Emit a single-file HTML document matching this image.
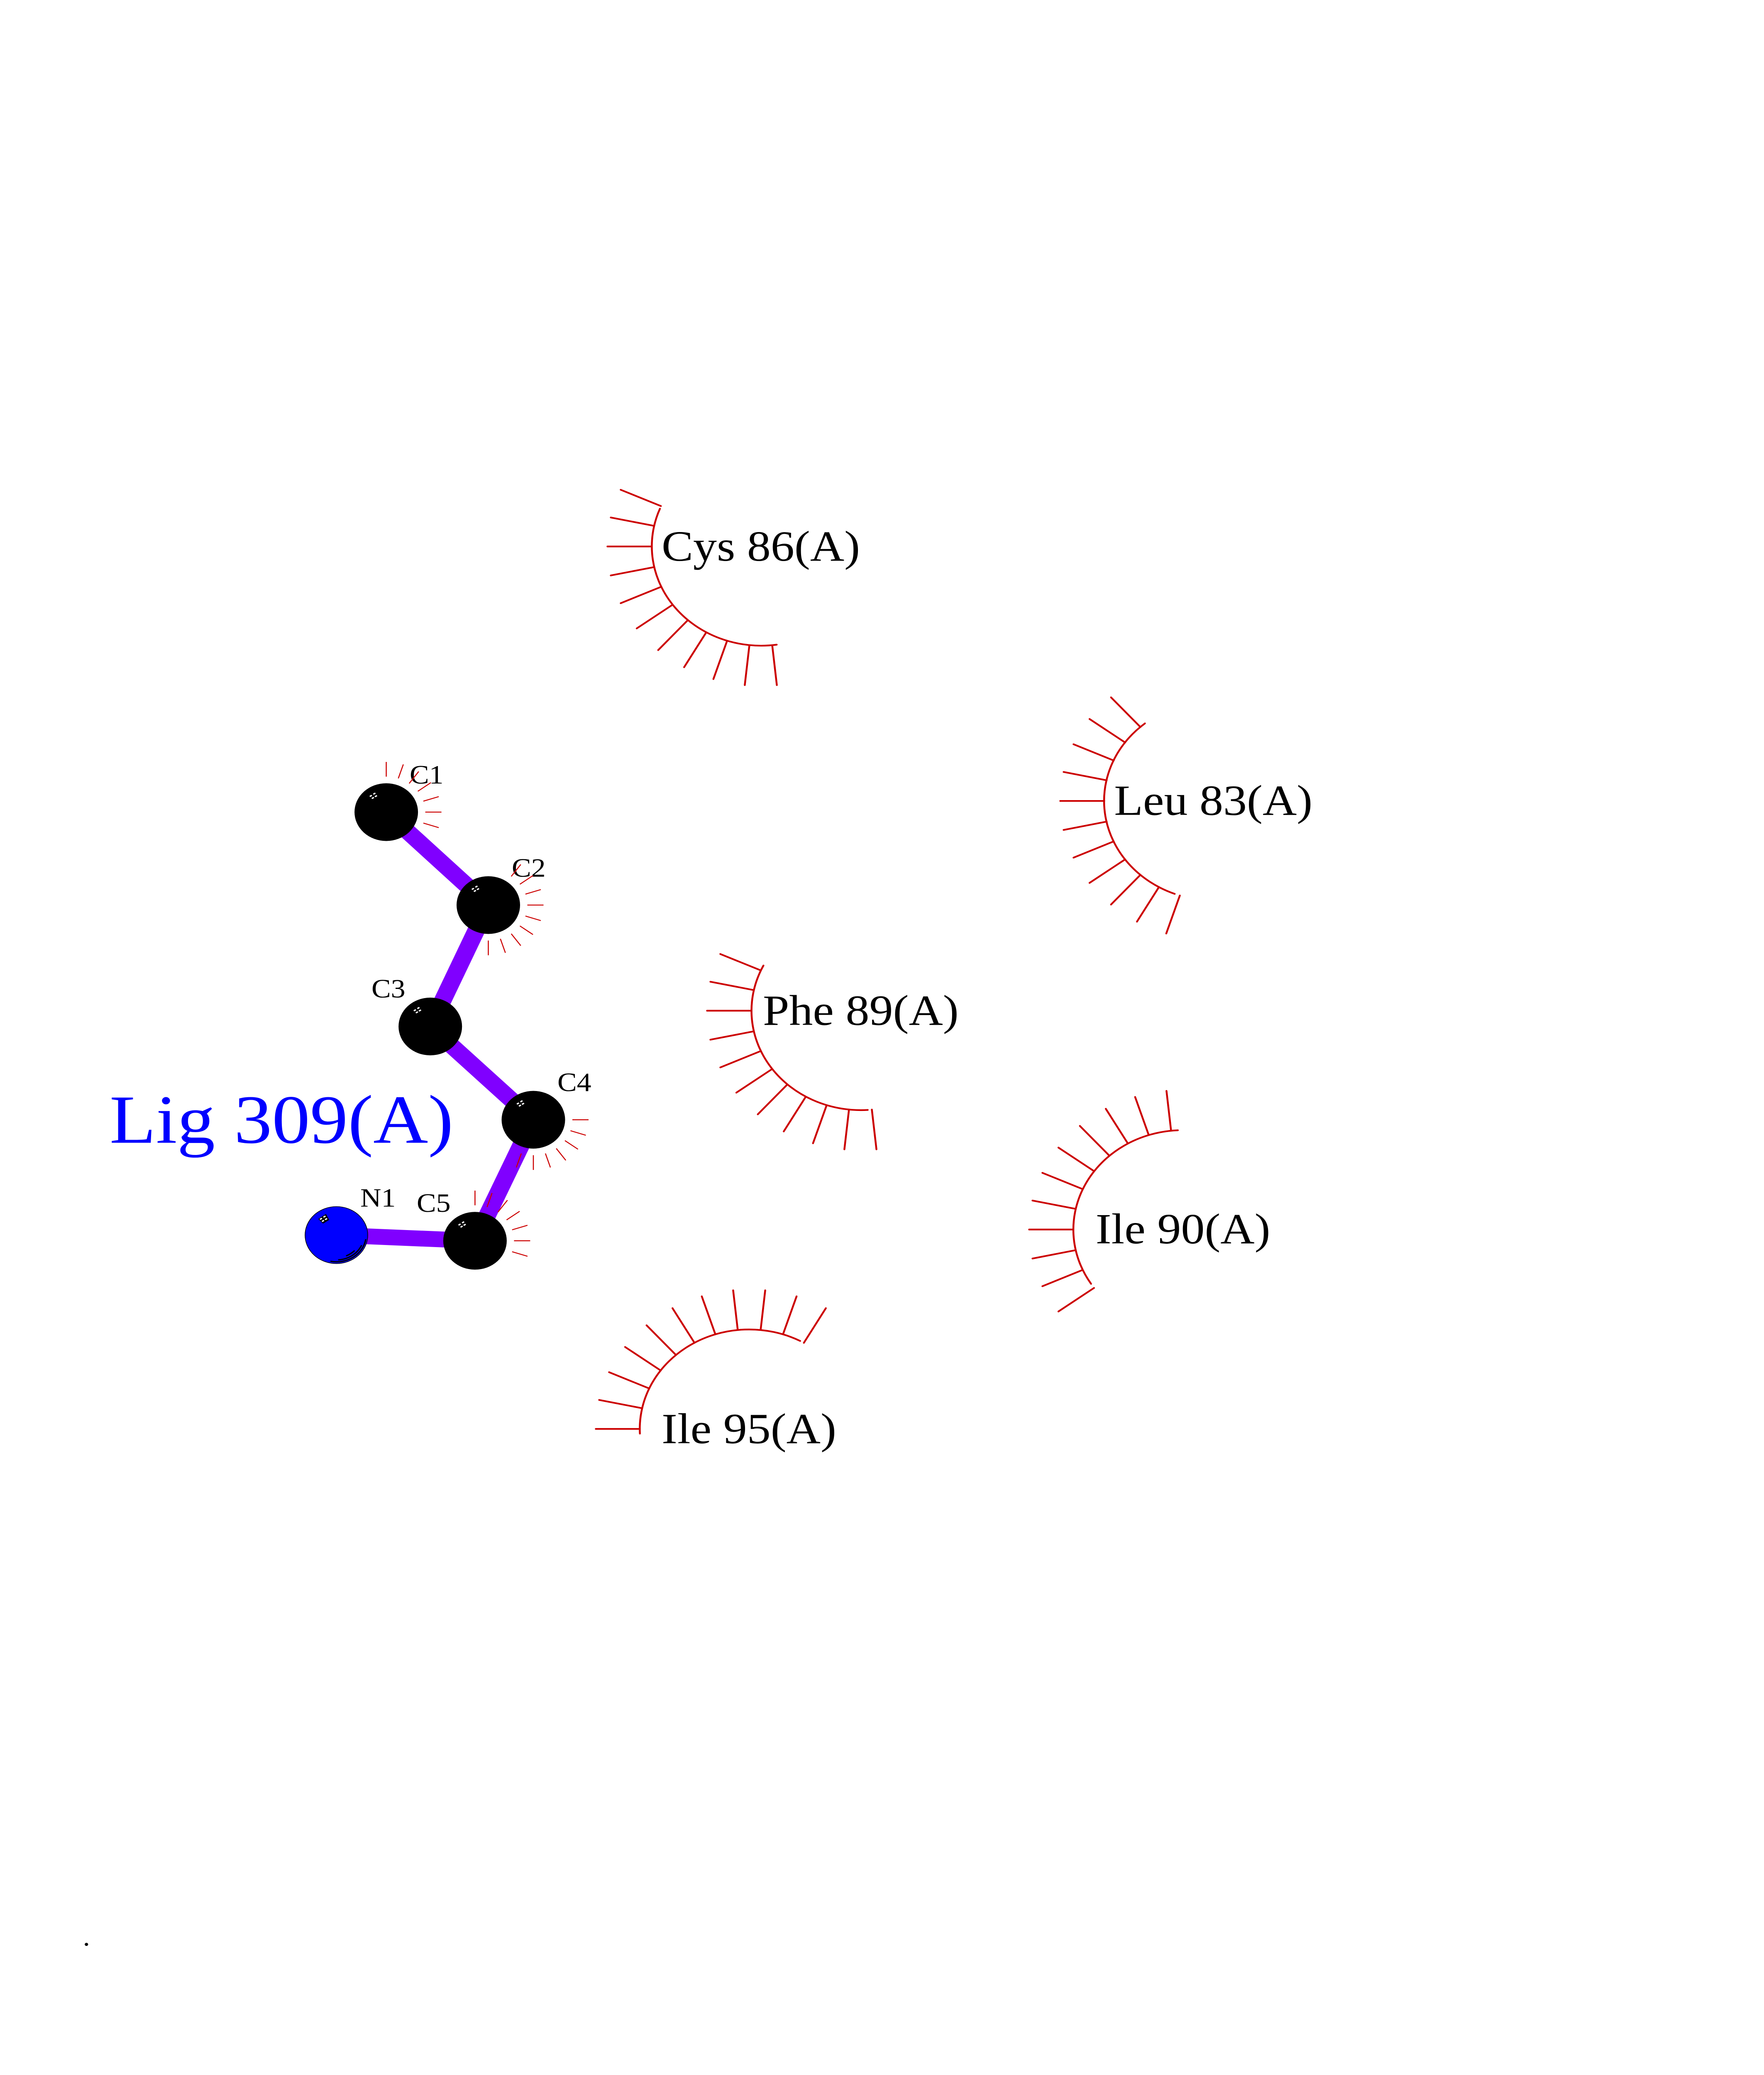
<!DOCTYPE html>
<html lang="en">
<head>
<meta charset="utf-8">
<title>Lig 309(A) interactions</title>
<style>
html,body{margin:0;padding:0;background:#fff;width:100%;height:100%;overflow:hidden;}
svg{display:block;width:100vw;height:100vh;}
text{font-family:"Liberation Serif",serif;fill:#000;}
.res{font-size:114px;}
.atom{font-size:70px;}
.arc{fill:none;stroke:#cc0000;stroke-width:4.5;stroke-linecap:round;}
.sp{stroke:#cc0000;stroke-width:2.5;}
</style>
</head>
<body>
<svg xmlns="http://www.w3.org/2000/svg" viewBox="0 0 4250 5500" preserveAspectRatio="none">
<rect width="4250" height="5500" fill="#fff"/>
<defs>
<g id="hl" stroke="#fff" stroke-width="3.5">
<line x1="-39.7" y1="-41.5" x2="-34.7" y2="-44.5"/>
<line x1="-31.2" y1="-47.4" x2="-26.2" y2="-50.4"/>
<line x1="-27.4" y1="-40.8" x2="-22.4" y2="-43.8"/>
<line x1="-34.8" y1="-36" x2="-29.8" y2="-39"/>
</g>
<line id="t" x1="-263.5" y1="0" x2="-369.5" y2="0"/>
<line id="s" x1="0" y1="-94" x2="0" y2="-133"/>
</defs>

<!-- bonds -->
<g stroke="#8000ff" stroke-width="42" fill="none">
<line x1="930.6" y1="2152.6" x2="1176.5" y2="2399"/>
<line x1="1176.5" y1="2399" x2="1036.7" y2="2720.8"/>
<line x1="1036.7" y1="2720.8" x2="1285" y2="2968"/>
<line x1="1285" y1="2968" x2="1144.4" y2="3288.8"/>
<line x1="1144.4" y1="3288.8" x2="810.5" y2="3273.7"/>
</g>

<!-- atoms -->
<circle cx="930.6" cy="2152.6" r="76.5" fill="#000"/>
<circle cx="1176.5" cy="2399" r="76.5" fill="#000"/>
<circle cx="1036.7" cy="2720.8" r="76.5" fill="#000"/>
<circle cx="1285" cy="2968" r="76.5" fill="#000"/>
<circle cx="1144.4" cy="3288.8" r="76.5" fill="#000"/>
<use href="#hl" transform="translate(930.6 2152.6)"/>
<use href="#hl" transform="translate(1176.5 2399)"/>
<use href="#hl" transform="translate(1036.7 2720.8)"/>
<use href="#hl" transform="translate(1285 2968)"/>
<use href="#hl" transform="translate(1144.4 3288.8)"/>

<!-- N1 -->
<circle cx="810.5" cy="3273.7" r="75.5" fill="#0000ff" stroke="#000" stroke-width="1.6"/>
<polygon points="766.7,3231 785.3,3217.7 793.3,3233.3 778.3,3243.3" fill="#000"/>
<use href="#hl" transform="translate(810.5 3273.7)"/>
<g fill="none" stroke="#000" stroke-width="3.3" stroke-linecap="round">
<path d="M797.3 3343.3A71 71 0 0 0 881 3286"/>
<path d="M816 3339.3A66 66 0 0 0 870.7 3301.7"/>
<path d="M835 3328.3A60 60 0 0 0 853.3 3315.7"/>
</g>

<!-- text -->
<text x="264" y="3029" font-size="183" style="fill:#0000ff">Lig 309(A)</text>
<text class="atom" x="987" y="2077">C1</text>
<text class="atom" x="1233" y="2324">C2</text>
<text class="atom" x="895" y="2644">C3</text>
<text class="atom" x="1343" y="2892">C4</text>
<text class="atom" x="1004" y="3212">C5</text>
<text class="atom" x="868" y="3198">N1</text>
<text class="res" x="1594" y="1486">Cys 86(A)</text>
<text class="res" x="2684.3" y="2160">Leu 83(A)</text>
<text class="res" x="1838" y="2716.7">Phe 89(A)</text>
<text class="res" x="2639.6" y="3295.6">Ile 90(A)</text>
<text class="res" x="1594" y="3825">Ile 95(A)</text>
<text x="199.5" y="5157" font-size="70">.</text>

<!-- small spokes -->
<g class="sp" transform="translate(930.6 2152.6)">
<use href="#s"/><use href="#s" transform="rotate(18)"/><use href="#s" transform="rotate(36)"/><use href="#s" transform="rotate(54)"/><use href="#s" transform="rotate(72)"/><use href="#s" transform="rotate(90)"/><use href="#s" transform="rotate(108)"/>
</g>
<g class="sp" transform="translate(1176.5 2399)">
<use href="#s" transform="rotate(36)"/><use href="#s" transform="rotate(54)"/><use href="#s" transform="rotate(72)"/><use href="#s" transform="rotate(90)"/><use href="#s" transform="rotate(108)"/><use href="#s" transform="rotate(126)"/><use href="#s" transform="rotate(144)"/><use href="#s" transform="rotate(162)"/><use href="#s" transform="rotate(180)"/>
</g>
<g class="sp" transform="translate(1285 2968)">
<use href="#s" transform="rotate(90)"/><use href="#s" transform="rotate(108)"/><use href="#s" transform="rotate(126)"/><use href="#s" transform="rotate(144)"/><use href="#s" transform="rotate(162)"/><use href="#s" transform="rotate(180)"/><use href="#s" transform="rotate(198)"/>
</g>
<g class="sp" transform="translate(1144.4 3288.8)">
<use href="#s"/><use href="#s" transform="rotate(18)"/><use href="#s" transform="rotate(36)"/><use href="#s" transform="rotate(54)"/><use href="#s" transform="rotate(72)"/><use href="#s" transform="rotate(90)"/><use href="#s" transform="rotate(108)"/>
</g>

<!-- Cys 86 -->
<path class="arc" d="M1590 1348.3A263.5 263.5 0 0 0 1871.3 1708.8"/>
<g class="arc" transform="translate(1833 1448.5)">
<use href="#t" transform="rotate(24)"/><use href="#t" transform="rotate(12)"/><use href="#t"/><use href="#t" transform="rotate(-12)"/><use href="#t" transform="rotate(-24)"/><use href="#t" transform="rotate(-36)"/><use href="#t" transform="rotate(-48)"/><use href="#t" transform="rotate(-60)"/><use href="#t" transform="rotate(-72)"/><use href="#t" transform="rotate(-84)"/><use href="#t" transform="rotate(-96)"/>
</g>

<!-- Leu 83 -->
<path class="arc" d="M2758.5 1917.5A263.5 263.5 0 0 0 2830.2 2369.3"/>
<g class="arc" transform="translate(2924 2123)">
<use href="#t" transform="rotate(48)"/><use href="#t" transform="rotate(36)"/><use href="#t" transform="rotate(24)"/><use href="#t" transform="rotate(12)"/><use href="#t"/><use href="#t" transform="rotate(-12)"/><use href="#t" transform="rotate(-24)"/><use href="#t" transform="rotate(-36)"/><use href="#t" transform="rotate(-48)"/><use href="#t" transform="rotate(-60)"/><use href="#t" transform="rotate(-72)"/>
</g>

<!-- Phe 89 -->
<path class="arc" d="M1839.4 2559.2A263.5 263.5 0 0 0 2090.6 2942"/>
<g class="arc" transform="translate(2073 2679)">
<use href="#t" transform="rotate(24)"/><use href="#t" transform="rotate(12)"/><use href="#t"/><use href="#t" transform="rotate(-12)"/><use href="#t" transform="rotate(-24)"/><use href="#t" transform="rotate(-36)"/><use href="#t" transform="rotate(-48)"/><use href="#t" transform="rotate(-60)"/><use href="#t" transform="rotate(-72)"/><use href="#t" transform="rotate(-84)"/><use href="#t" transform="rotate(-96)"/>
</g>

<!-- Ile 90 -->
<path class="arc" d="M2837.8 2995.9A263.5 263.5 0 0 0 2628.7 3402.9"/>
<g class="arc" transform="translate(2849 3259)">
<use href="#t" transform="rotate(84)"/><use href="#t" transform="rotate(72)"/><use href="#t" transform="rotate(60)"/><use href="#t" transform="rotate(48)"/><use href="#t" transform="rotate(36)"/><use href="#t" transform="rotate(24)"/><use href="#t" transform="rotate(12)"/><use href="#t"/><use href="#t" transform="rotate(-12)"/><use href="#t" transform="rotate(-24)"/><use href="#t" transform="rotate(-36)"/>
</g>

<!-- Ile 95 -->
<path class="arc" d="M1927.8 3554.3A263.5 263.5 0 0 0 1541.7 3800"/>
<g class="arc" transform="translate(1805 3787.5)">
<use href="#t"/><use href="#t" transform="rotate(12)"/><use href="#t" transform="rotate(24)"/><use href="#t" transform="rotate(36)"/><use href="#t" transform="rotate(48)"/><use href="#t" transform="rotate(60)"/><use href="#t" transform="rotate(72)"/><use href="#t" transform="rotate(84)"/><use href="#t" transform="rotate(96)"/><use href="#t" transform="rotate(108)"/><use href="#t" transform="rotate(120)"/>
</g>
</svg>
</body>
</html>
